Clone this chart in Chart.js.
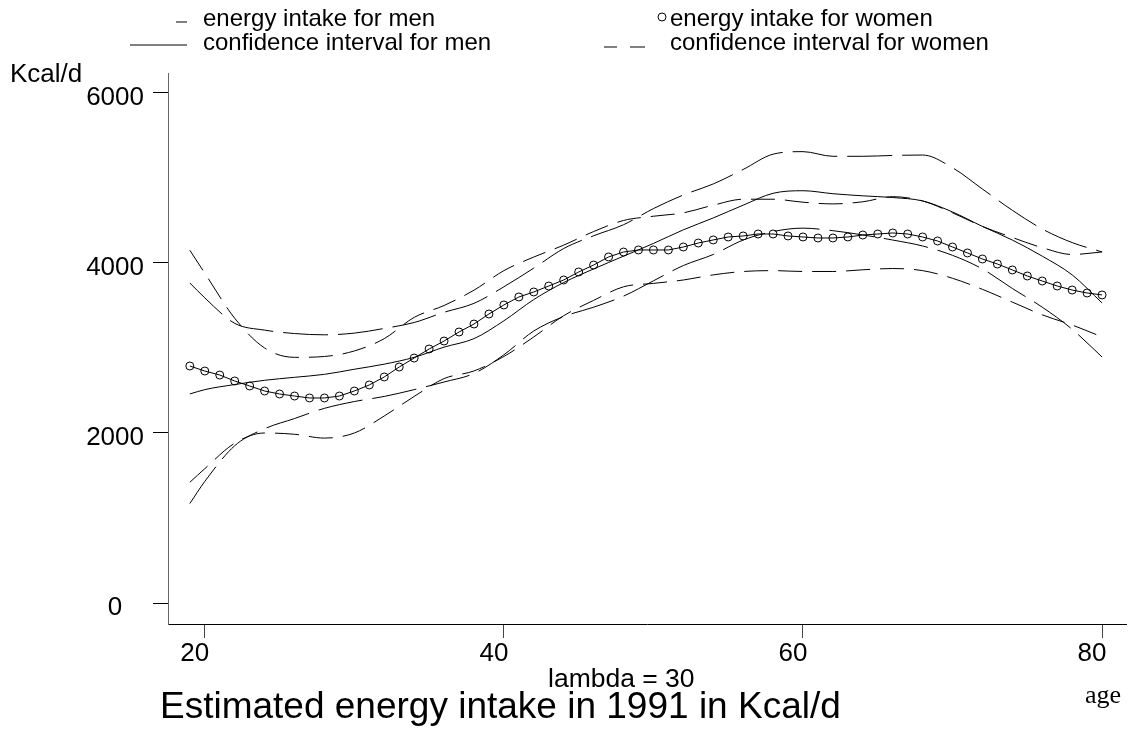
<!DOCTYPE html>
<html><head><meta charset="utf-8">
<script src="https://cdn.jsdelivr.net/npm/chart.js@4/dist/chart.umd.min.js"></script>
<style>
html,body{margin:0;padding:0;background:#fff;}
#wrap{position:relative;width:1131px;height:731px;overflow:hidden;font-family:"Liberation Sans",Arial,sans-serif;color:#000;}
canvas{position:absolute;left:0;top:0;}
.t{position:absolute;white-space:nowrap;line-height:1;}
svg{position:absolute;left:0;top:0;}
</style></head><body>
<div id="wrap">
<canvas id="c" width="1131" height="731"></canvas>
<svg width="1131" height="60">
  <line x1="176" y1="22" x2="187" y2="22" stroke="#000" stroke-width="1"/>
  <line x1="130" y1="45" x2="187" y2="45" stroke="#000" stroke-width="1"/>
  <circle cx="662" cy="17" r="4" fill="none" stroke="#000" stroke-width="1"/>
  <line x1="604" y1="47" x2="617" y2="47" stroke="#000" stroke-width="1"/>
  <line x1="630" y1="47" x2="645" y2="47" stroke="#000" stroke-width="1"/>
</svg>
<div class="t" style="left:203px;top:6px;font-size:24px;">energy intake for men</div>
<div class="t" style="left:203px;top:30px;font-size:24px;">confidence interval for men</div>
<div class="t" style="left:670px;top:6px;font-size:24px;">energy intake for women</div>
<div class="t" style="left:670px;top:30px;font-size:24px;">confidence interval for women</div>
<div class="t" style="left:10px;top:60px;font-size:26px;">Kcal/d</div>
<div class="t" style="left:548px;top:665px;font-size:26.5px;">lambda = 30</div>
<div class="t" style="left:160px;top:687px;font-size:37px;">Estimated energy intake in 1991 in Kcal/d</div>
<div class="t" style="left:1085px;top:682px;font-size:26px;font-family:'Liberation Serif','Times New Roman',serif;">age</div>
</div>
<script>
const xTickValues = [20, 40, 60, 80];
const yTickValues = [0, 2000, 4000, 6000];

const lineAges = [19,20,22,24,26,28,30,32,34,36,38,40,42,44,46,48,50,52,54,56,58,60,62,64,66,68,70,72,74,76,78,80];
const menIntake = [2459,2510,2570,2620,2655,2690,2750,2810,2890,3010,3110,3320,3570,3770,3930,4080,4230,4390,4530,4680,4820,4850,4815,4790,4770,4730,4600,4430,4270,4080,3860,3530];
const menUpper = [3765,3590,3290,3210,3170,3155,3175,3230,3300,3420,3525,3720,3940,4170,4320,4450,4640,4800,4930,5100,5280,5310,5255,5255,5265,5270,5120,4870,4620,4400,4240,4130];
const menLower = [1170,1430,1850,2050,2170,2290,2370,2430,2510,2600,2700,2920,3200,3370,3480,3610,3790,3970,4100,4270,4370,4410,4380,4330,4270,4200,4090,3930,3700,3480,3220,2894];
const womenUpper = [4150,3880,3350,3000,2890,2900,2965,3110,3360,3500,3680,3910,4070,4210,4370,4500,4550,4590,4680,4750,4750,4715,4695,4720,4780,4730,4590,4430,4300,4180,4100,4130];
const womenLower = [1420,1580,1880,2000,1985,1940,2000,2200,2430,2640,2730,2900,3130,3380,3560,3720,3760,3800,3860,3900,3910,3900,3900,3920,3935,3910,3820,3690,3540,3390,3270,3130];

const womenAges = [19,20,21,22,23,24,25,26,27,28,29,30,31,32,33,34,35,36,37,38,39,40,41,42,43,44,45,46,47,48,49,50,51,52,53,54,55,56,57,58,59,60,61,62,63,64,65,66,67,68,69,70,71,72,73,74,75,76,77,78,79,80];
const womenIntake = [2788,2729,2682,2612,2553,2494,2459,2435,2412,2412,2435,2494,2565,2659,2776,2882,2988,3082,3188,3282,3400,3506,3600,3659,3729,3800,3894,3976,4071,4129,4153,4153,4153,4188,4235,4271,4306,4318,4341,4341,4318,4306,4294,4294,4306,4329,4341,4353,4341,4306,4259,4188,4118,4047,3988,3918,3847,3788,3729,3682,3647,3624];

const pts = (xs, ys) => xs.map((x, i) => ({x: x, y: ys[i]}));
const FONT = '"Liberation Sans", Arial, sans-serif';

function lineDs(label, ys, dash) {
  return {
    label: label, data: pts(lineAges, ys), borderColor: '#000', borderWidth: 1,
    borderDash: dash, pointRadius: 0, fill: false, cubicInterpolationMode: 'monotone'
  };
}

new Chart(document.getElementById('c').getContext('2d'), {
  type: 'line',
  data: {
    datasets: [
      lineDs('energy intake for men', menIntake, []),
      lineDs('confidence interval for men (upper)', menUpper, [45, 10]),
      lineDs('confidence interval for men (lower)', menLower, [45, 10]),
      lineDs('confidence interval for women (upper)', womenUpper, [24, 10]),
      lineDs('confidence interval for women (lower)', womenLower, [24, 10]),
      {
        label: 'energy intake for women', data: pts(womenAges, womenIntake),
        borderColor: '#000', borderWidth: 1, pointRadius: 4, pointStyle: 'circle',
        pointBorderColor: '#000', pointBackgroundColor: 'rgba(255,255,255,0)', pointBorderWidth: 1,
        fill: false, tension: 0
      }
    ]
  },
  options: {
    responsive: false, animation: false, devicePixelRatio: 1,
    layout: {padding: {top: 73, left: 0, right: 0, bottom: 0}},
    plugins: {legend: {display: false}, tooltip: {enabled: false}, title: {display: false}},
    scales: {
      x: {
        type: 'linear', min: 17.54, max: 81.6,
        afterBuildTicks: s => { s.ticks = xTickValues.map(v => ({value: v})); },
        grid: {drawOnChartArea: false, drawTicks: true, tickLength: 14, color: '#444'},
        border: {display: true, color: '#000', width: 1},
        ticks: {font: {family: FONT, size: 26}, color: '#000', padding: 0, labelOffset: -10, maxRotation: 0, autoSkip: false, callback: v => String(v)},
        afterFit: s => { s.height = 107; }
      },
      y: {
        type: 'linear', min: -247, max: 6235,
        afterBuildTicks: s => { s.ticks = yTickValues.map(v => ({value: v})); },
        grid: {drawOnChartArea: false, drawTicks: true, tickLength: 15, color: '#000'},
        border: {display: true, color: '#666', width: 1},
        ticks: {font: {family: FONT, size: 26}, color: '#000', padding: 9, crossAlign: 'center', labelOffset: 5, autoSkip: false, callback: v => String(v)},
        afterFit: s => { s.width = 168; }
      }
    }
  }
});
</script>
</body></html>
